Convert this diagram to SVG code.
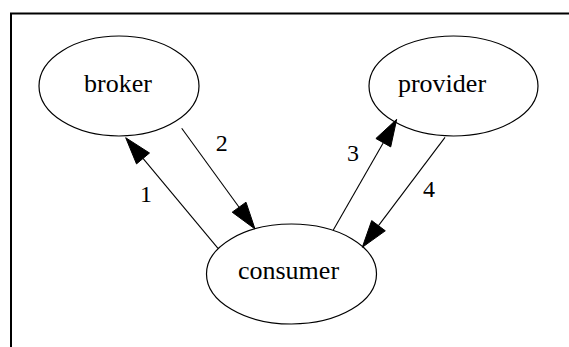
<svg xmlns="http://www.w3.org/2000/svg" width="569" height="347" viewBox="0 0 569 347">
<style>
.node ellipse{fill:none;stroke:#000;stroke-width:1.2}
.node text{font-family:"Liberation Serif","Times New Roman",serif;font-size:26px;text-anchor:middle;fill:#000}
.edge line{stroke:#000;stroke-width:1.1}
.edge polygon{fill:#000;stroke:#000;stroke-width:1}
.lbl{font-family:"Liberation Serif","Times New Roman",serif;font-size:24px;text-anchor:middle;fill:#000}
</style>
<rect width="569" height="347" fill="#fff"/>
<rect x="11" y="13.5" width="620" height="400" fill="none" stroke="#000" stroke-width="2"/>
<g id="broker" class="node">
<ellipse cx="119" cy="86" rx="80" ry="50"/>
<text x="118" y="92.3">broker</text>
</g>
<g id="provider" class="node">
<ellipse cx="453.5" cy="86" rx="84.5" ry="50"/>
<text x="442" y="92.3">provider</text>
</g>
<g id="consumer" class="node">
<ellipse cx="291.5" cy="274" rx="85" ry="50"/>
<text x="288.5" y="279">consumer</text>
</g>
<g id="edges" class="edge">
<line x1="218" y1="248.3" x2="143" y2="158.4"/>
<polygon points="125.7,137.7 136.5,163.9 149.5,153"/>
<text class="lbl" x="146" y="202">1</text>
<line x1="181.7" y1="128.3" x2="239.1" y2="207.2"/>
<polygon points="255,229 246,202.2 232.2,212.2"/>
<text class="lbl" x="221.7" y="150.7">2</text>
<line x1="333.3" y1="230" x2="383.3" y2="142.7"/>
<polygon points="396.7,119.3 390.7,146.9 375.9,138.5"/>
<text class="lbl" x="353" y="160.7">3</text>
<line x1="445" y1="137.3" x2="378.5" y2="225.7"/>
<polygon points="362.3,247.3 385.3,230.8 371.7,220.6"/>
<text class="lbl" x="429" y="197">4</text>
</g>
</svg>
